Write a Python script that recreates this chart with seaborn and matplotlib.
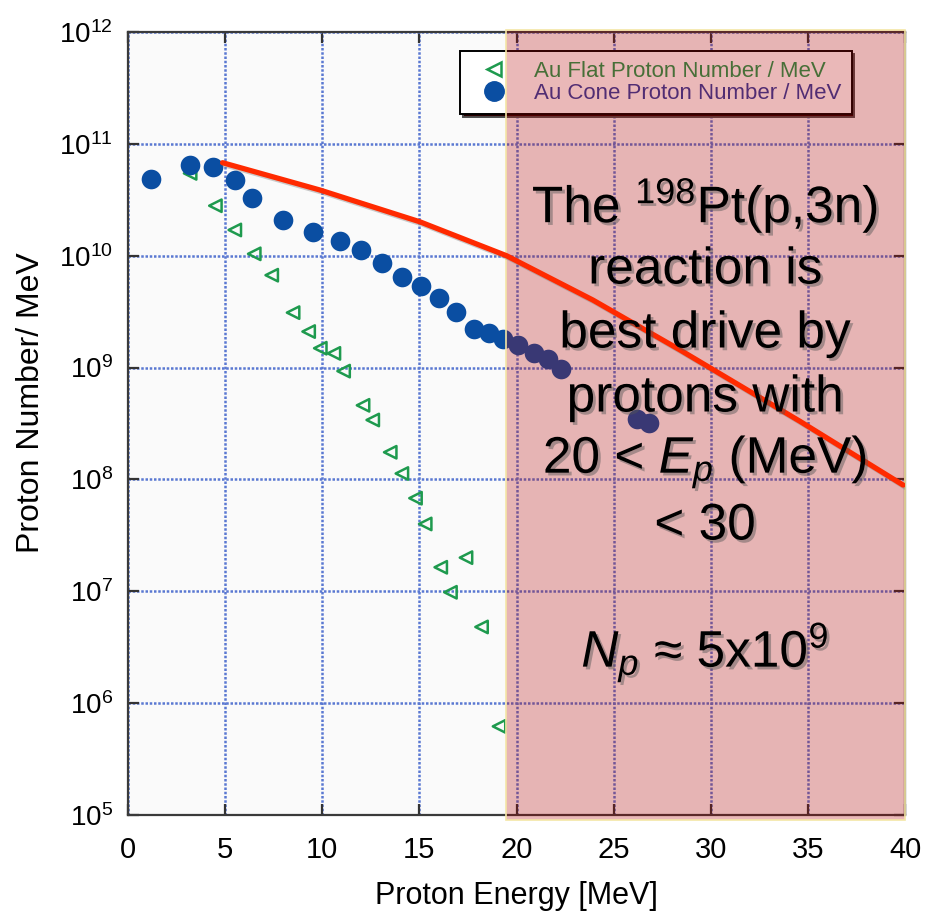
import numpy as np
import pandas as pd
import matplotlib
matplotlib.use("Agg")
import matplotlib.pyplot as plt
import matplotlib.patheffects as pe
from matplotlib.patches import Rectangle
from matplotlib.lines import Line2D
from matplotlib.ticker import FixedLocator, LogFormatterSciNotation, NullLocator
import seaborn as sns

# Au cone target: proton number per MeV
cone_energy = [1.2, 3.2, 4.4, 5.5, 6.4, 8.0, 9.5, 10.9, 12.0, 13.1, 14.1, 15.1,
               16.0, 16.9, 17.8, 18.6, 19.3, 20.1, 20.9, 21.6, 22.3, 26.2, 26.8]
cone_number = [4.9e10, 6.5e10, 6.25e10, 4.8e10, 3.3e10, 2.08e10, 1.64e10, 1.35e10,
               1.13e10, 8.7e9, 6.5e9, 5.4e9, 4.2e9, 3.16e9, 2.2e9, 2.05e9, 1.81e9,
               1.59e9, 1.36e9, 1.19e9, 9.8e8, 3.5e8, 3.2e8]

# Au flat target: proton number per MeV
flat_energy = [3.2, 4.5, 5.5, 6.5, 7.4, 8.5, 9.3, 9.9, 10.6, 11.1, 12.1, 12.6,
               13.5, 14.1, 14.8, 15.3, 16.1, 16.6, 17.4, 18.2, 19.1]
flat_number = [5.45e10, 2.8e10, 1.7e10, 1.04e10, 6.7e9, 3.1e9, 2.1e9, 1.49e9,
               1.34e9, 9.3e8, 4.6e8, 3.4e8, 1.75e8, 1.13e8, 6.8e7, 4.0e7, 1.64e7,
               9.8e6, 2.0e7, 4.8e6, 6.2e5]

# hand-drawn trend curve
trend_energy = [4.87, 9.88, 15.03, 19.49, 23.93, 28.41, 34.59, 39.9]
trend_number = [6.79e10, 3.87e10, 2.01e10, 1.0e10, 4.02e9, 1.44e9, 3.31e8, 8.91e7]

# energy window of interest
window = [19.45, 40.0]

x_ticks = [0, 5, 10, 15, 20, 25, 30, 35, 40]
y_ticks = [1e5, 1e6, 1e7, 1e8, 1e9, 1e10, 1e11, 1e12]
series_labels = ["Au Flat Proton Number / MeV", "Au Cone Proton Number / MeV"]
note_lines = [
    r"The $\mathregular{^{198}}$Pt(p,3n)",
    "reaction is",
    "best drive by",
    "protons with",
    r"20 < $\mathit{E}_{\mathit{p}}$ (MeV)",
    "< 30",
]
note_count = r"$\mathit{N}_{\mathit{p}}$ ≈ 5x10$\mathregular{^{9}}$"

sns.set_style("ticks")
plt.rcParams["font.family"] = ["Liberation Sans", "DejaVu Sans"]
plt.rcParams["mathtext.fontset"] = "custom"
plt.rcParams["mathtext.rm"] = "Liberation Sans"
plt.rcParams["mathtext.it"] = "Liberation Sans:italic"
plt.rcParams["mathtext.bf"] = "Liberation Sans:bold"

green = "#1E9A4E"
blue = "#0A4EA2"
grid_blue = "#5A78D2"

fig = plt.figure(figsize=(9.34, 9.18), dpi=100, facecolor="white")
ax = fig.add_axes([0.137, 0.1122, 0.832, 0.8529])
ax.set_facecolor("#FAFAFA")

flat_df = pd.DataFrame({"energy": flat_energy, "number": flat_number})
cone_df = pd.DataFrame({"energy": cone_energy, "number": cone_number})
trend_df = pd.DataFrame({"energy": trend_energy, "number": trend_number})

sns.scatterplot(data=flat_df, x="energy", y="number", ax=ax, marker="<", s=80,
                facecolor="none", edgecolor=green, linewidth=1.8, zorder=3)
sns.scatterplot(data=cone_df, x="energy", y="number", ax=ax, marker="o", s=200,
                color=blue, edgecolor=blue, linewidth=0, zorder=4)

ax.set_yscale("log")
ax.set_xlim(0, 40)
ax.set_ylim(1e5, 1e12)
ax.set_xticks(x_ticks)
ax.set_xticklabels([str(t) for t in x_ticks])
ax.yaxis.set_major_locator(FixedLocator(y_ticks))
ax.yaxis.set_major_formatter(LogFormatterSciNotation())
ax.yaxis.set_minor_locator(NullLocator())

ax.grid(True, which="major", color=grid_blue, linestyle=(0, (1, 0.7)), linewidth=1.8, zorder=1)
ax.set_axisbelow(True)

ax.tick_params(axis="both", which="major", direction="in", length=8, width=1.6,
               color="#333333", labelcolor="black", top=True, right=True)
ax.tick_params(axis="y", labelsize=20, pad=11)
ax.tick_params(axis="x", labelsize=21, pad=15)
for s in ax.spines.values():
    s.set_color("#3A3A3A")
    s.set_linewidth(1.6)

handles = [
    Line2D([], [], marker="<", linestyle="none", markersize=10, markerfacecolor="none",
           markeredgecolor=green, markeredgewidth=1.8),
    Line2D([], [], marker="o", linestyle="none", markersize=14, color=blue),
]
leg = ax.legend(handles, series_labels, loc="upper left", bbox_to_anchor=(0.427, 0.976),
                borderaxespad=0, fontsize=16, frameon=True, fancybox=False,
                labelspacing=0.05, handletextpad=0.7, borderpad=0.45, handlelength=2.2,
                shadow={"facecolor": "#2A0000", "alpha": 1.0})
leg.get_frame().set_edgecolor("black")
leg.get_frame().set_linewidth(1.4)
leg.get_frame().set_facecolor("white")
leg.get_frame().set_alpha(1.0)
for txt, c in zip(leg.get_texts(), [green, "#2C3FA0"]):
    txt.set_color(c)
leg.set_zorder(5)

# shaded energy window
shade = Rectangle((window[0], -0.006), window[1] - window[0], 1.009,
                  transform=ax.get_xaxis_transform(), facecolor="#B40000", alpha=0.28,
                  edgecolor="none", zorder=6, clip_on=False)
ax.add_patch(shade)
edge = Rectangle((window[0], -0.006), window[1] - window[0], 1.009,
                 transform=ax.get_xaxis_transform(), facecolor="none",
                 edgecolor="#F4E6A6", linewidth=1.2, zorder=6.1, clip_on=False)
ax.add_patch(edge)

sns.lineplot(data=trend_df, x="energy", y="number", ax=ax, sort=False, estimator=None,
             color="#FF2A00", linewidth=3.8, zorder=7,
             path_effects=[pe.SimpleLineShadow(offset=(1.5, -1.5), shadow_color="gray", alpha=0.4),
                           pe.Normal()])
if ax.get_legend() is not leg:
    ax.add_artist(leg)

ax.set_xlabel("Proton Energy [MeV]", fontsize=22, labelpad=12, color="black")
ax.set_ylabel("Proton Number/ MeV", fontsize=23, color="black")
ax.yaxis.set_label_coords(-0.106, 0.527)

shadow_fx = [pe.SimplePatchShadow(offset=(2, -2), shadow_rgbFace="#555555", alpha=0.45),
             pe.Normal()]
line_y_px = [205, 270, 334, 398, 462, 526]
for txt, ypx in zip(note_lines, line_y_px):
    fig.text(705 / 934, 1 - ypx / 918, txt, ha="center", va="center", fontsize=37,
             color="black", zorder=8, path_effects=shadow_fx)
fig.text(705 / 934, 1 - 652 / 918, note_count, ha="center", va="center", fontsize=37,
         color="black", zorder=8, path_effects=shadow_fx)

fig.savefig("out.png", dpi=100, facecolor=fig.get_facecolor())
